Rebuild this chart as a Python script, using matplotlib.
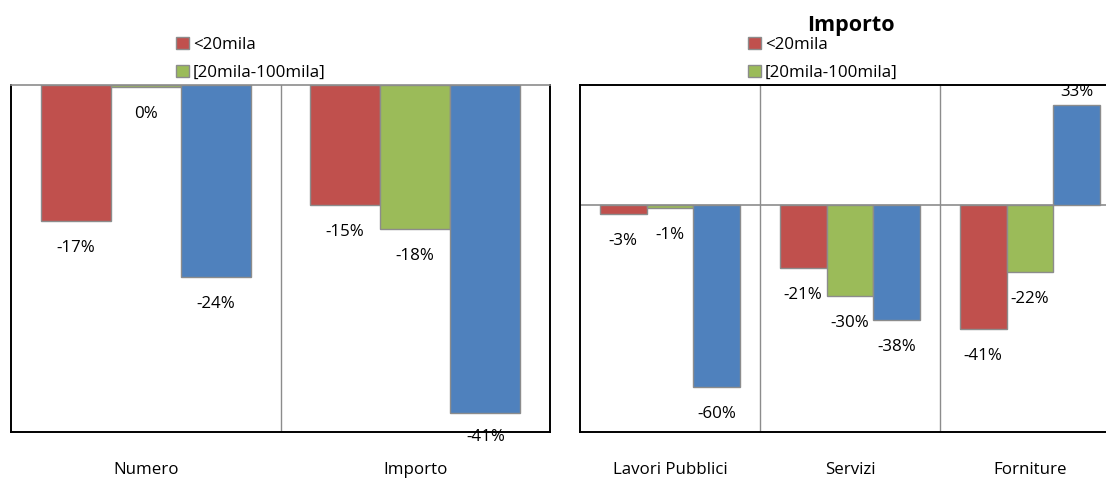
import matplotlib.pyplot as plt
from matplotlib.patches import Patch

plt.rcParams['font.family'] = ['Open Sans', 'DejaVu Sans']
plt.rcParams['font.size'] = 12.2

# dati
series = ['<20mila', '[20mila-100mila]', '>100mila']
colors = ['#C0504D', '#9BBB59', '#4F81BD']

left_cats = ['Numero', 'Importo']
left_vals = [[-17, -15], [-0.3, -18], [-24, -41]]
left_labels = [['-17%', '-15%'], ['0%', '-18%'], ['-24%', '-41%']]

right_cats = ['Lavori Pubblici', 'Servizi', 'Forniture']
right_vals = [[-3, -21, -41], [-1, -30, -22], [-60, -38, 33]]
right_labels = [['-3%', '-21%', '-41%'], ['-1%', '-30%', '-22%'], ['-60%', '-38%', '33%']]

W, H = 1106, 482
fig = plt.figure(figsize=(W / 100, H / 100), dpi=100)

def px(x0, y0, x1, y1):
    # rettangolo in pixel (origine in alto a sinistra) -> coordinate figura
    return [x0 / W, 1 - y1 / H, (x1 - x0) / W, (y1 - y0) / H]

ax1 = fig.add_axes(px(11, 85, 550, 432))
ax2 = fig.add_axes(px(580, 85, 1120, 432))

width = 0.26

def draw(ax, cats, vals, labels, ylim):
    ax.set_xlim(-0.5, len(cats) - 0.5)
    ax.set_ylim(*ylim)
    y0, y1 = ylim
    scale = (432 - 85) / (y1 - y0)  # pixel per punto percentuale
    for i, (v, lab) in enumerate(zip(vals, labels)):
        xs = [c + (i - 1) * width for c in range(len(cats))]
        bars = ax.bar(xs, v, width, color=colors[i], edgecolor='#8c8c8c', linewidth=1, zorder=3)
        for b, val, t in zip(bars, v, lab):
            end = b.get_height()
            off = 13 if end > 0 else -27
            room = (end - y0) * scale  # pixel fino al fondo
            if end < 0 and room + off < -5:
                off = -5 - room
            ax.annotate(t, (b.get_x() + b.get_width() / 2, end), xytext=(0, off),
                        textcoords='offset pixels', ha='center', va='center',
                        zorder=4, annotation_clip=False)
    for s in range(len(cats) - 1):
        ax.axvline(s + 0.5, color='#8c8c8c', linewidth=1, zorder=1)
    ax.set_xticks(range(len(cats)))
    ax.set_xticklabels(cats)
    ax.set_yticks([])
    ax.tick_params(axis='x', length=0, pad=21.5)
    for sp in ax.spines.values():
        sp.set_linewidth(1.4)
        sp.set_color('black')

draw(ax1, left_cats, left_vals, left_labels, (-43.4, 0))
ax1.spines['top'].set_color('#8c8c8c')
ax1.spines['top'].set_linewidth(1.2)

draw(ax2, right_cats, right_vals, right_labels, (-75, 39.6))
ax2.axhline(0, color='#8c8c8c', linewidth=1.2, zorder=2)

handles = [Patch(facecolor=colors[i], edgecolor='#8c8c8c', label=series[i]) for i in range(2)]
for x0 in (176, 748):
    fig.legend(handles=handles, loc='upper left', bbox_to_anchor=(x0 / W, 1 - 37 / H),
               frameon=False, handlelength=0.75, handleheight=0.75, handletextpad=0.25,
               labelspacing=0.68, borderaxespad=0, borderpad=0)

fig.text(851 / W, 1 - 26 / H, 'Importo', ha='center', va='center', fontweight='bold', fontsize=15.5)

fig.savefig('out.png', dpi=100)
